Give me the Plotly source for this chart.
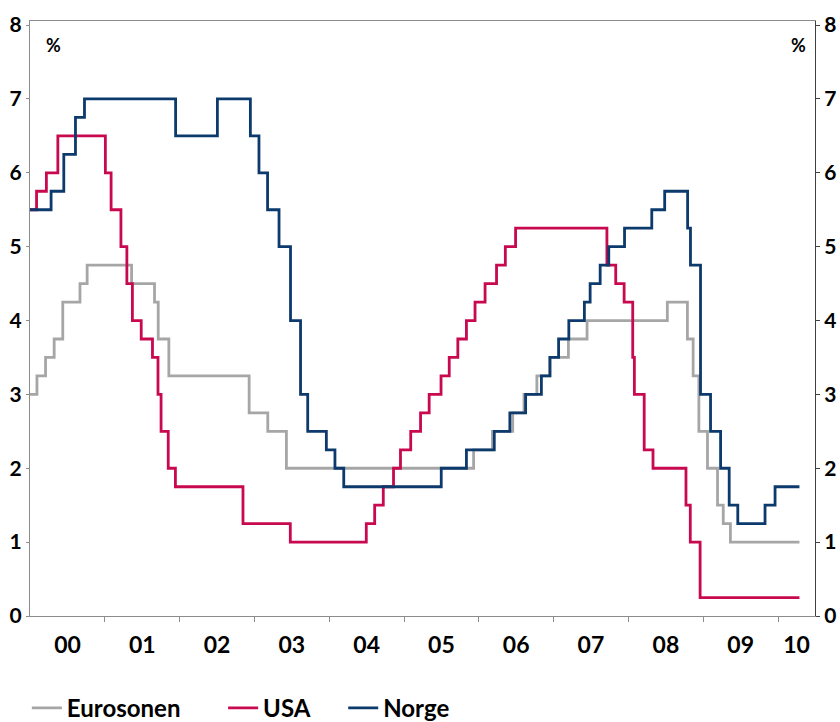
import plotly.graph_objects as go

# ---------------- data ----------------
euro_dates = ["2000-01-01", "2000-02-04", "2000-03-17", "2000-04-28", "2000-06-09", "2000-09-01",
              "2000-10-06", "2001-05-11", "2001-08-31", "2001-09-18", "2001-11-09", "2002-12-06",
              "2003-03-07", "2003-06-06", "2005-12-06", "2006-03-08", "2006-06-15", "2006-08-09",
              "2006-10-11", "2006-12-13", "2007-03-14", "2007-06-13", "2008-07-09", "2008-10-15",
              "2008-11-12", "2008-12-10", "2009-01-21", "2009-03-11", "2009-04-08", "2009-05-13",
              "2010-04-15"]
euro_rates = [3.00, 3.25, 3.50, 3.75, 4.25, 4.50,
              4.75, 4.50, 4.25, 3.75, 3.25, 2.75,
              2.50, 2.00, 2.25, 2.50, 2.75, 3.00,
              3.25, 3.50, 3.75, 4.00, 4.25, 3.75,
              3.25, 2.50, 2.00, 1.50, 1.25, 1.00,
              1.00]

usa_dates = ["2000-01-01", "2000-02-02", "2000-03-21", "2000-05-16", "2001-01-03", "2001-01-31",
             "2001-03-20", "2001-04-18", "2001-05-15", "2001-06-27", "2001-08-21", "2001-09-17",
             "2001-10-02", "2001-11-06", "2001-12-11", "2002-11-06", "2003-06-25", "2004-06-30",
             "2004-08-10", "2004-09-21", "2004-11-10", "2004-12-14", "2005-02-02", "2005-03-22",
             "2005-05-03", "2005-06-30", "2005-08-09", "2005-09-20", "2005-11-01", "2005-12-13",
             "2006-01-31", "2006-03-28", "2006-05-10", "2006-06-29", "2007-09-18", "2007-10-31",
             "2007-12-11", "2008-01-22", "2008-01-30", "2008-03-18", "2008-04-30", "2008-10-08",
             "2008-10-29", "2008-12-16", "2010-04-15"]
usa_rates = [5.50, 5.75, 6.00, 6.50, 6.00, 5.50,
             5.00, 4.50, 4.00, 3.75, 3.50, 3.00,
             2.50, 2.00, 1.75, 1.25, 1.00, 1.25,
             1.50, 1.75, 2.00, 2.25, 2.50, 2.75,
             3.00, 3.25, 3.50, 3.75, 4.00, 4.25,
             4.50, 4.75, 5.00, 5.25, 4.75, 4.50,
             4.25, 3.50, 3.00, 2.25, 2.00, 1.50,
             1.00, 0.25, 0.25]

norge_dates = ["2000-01-01", "2000-04-13", "2000-06-14", "2000-08-10", "2000-09-23", "2001-12-12",
               "2002-07-04", "2002-12-12", "2003-01-23", "2003-03-06", "2003-05-01", "2003-06-26",
               "2003-08-14", "2003-09-18", "2003-12-18", "2004-01-29", "2004-03-12", "2005-07-01",
               "2005-11-01", "2006-03-17", "2006-06-01", "2006-08-17", "2006-11-02", "2006-12-14",
               "2007-01-25", "2007-03-16", "2007-05-31", "2007-06-28", "2007-08-16", "2007-09-27",
               "2007-12-13", "2008-04-24", "2008-06-26", "2008-10-16", "2008-10-30", "2008-12-18",
               "2009-02-05", "2009-03-26", "2009-05-07", "2009-06-18", "2009-10-29", "2009-12-17",
               "2010-04-15"]
norge_rates = [5.50, 5.75, 6.25, 6.75, 7.00, 6.50,
               7.00, 6.50, 6.00, 5.50, 5.00, 4.00,
               3.00, 2.50, 2.25, 2.00, 1.75, 2.00,
               2.25, 2.50, 2.75, 3.00, 3.25, 3.50,
               3.75, 4.00, 4.25, 4.50, 4.75, 5.00,
               5.25, 5.50, 5.75, 5.25, 4.75, 3.00,
               2.50, 2.00, 1.50, 1.25, 1.50, 1.75,
               1.75]

series_names = ["Eurosonen", "USA", "Norge"]
x_label_dates = ["2000-07-02", "2001-07-02", "2002-07-02", "2003-07-02", "2004-07-02",
                 "2005-07-02", "2006-07-02", "2007-07-02", "2008-07-02", "2009-07-02", "2010-04-01"]
x_label_text = ["00", "01", "02", "03", "04", "05", "06", "07", "08", "09", "10"]
year_starts = ["2001-01-01", "2002-01-01", "2003-01-01", "2004-01-01", "2005-01-01",
               "2006-01-01", "2007-01-01", "2008-01-01", "2009-01-01", "2010-01-01"]
y_ticks = [0, 1, 2, 3, 4, 5, 6, 7, 8]

# ---------------- style ----------------
FONT = "Lato"
colors = {"Eurosonen": "#A6A6A6", "USA": "#C8084F", "Norge": "#0D3A6C"}
axis_grey = "#8C8C8C"

fig = go.Figure()
for name, xs, ys, leg in [("Eurosonen", euro_dates, euro_rates, "legend"),
                          ("USA", usa_dates, usa_rates, "legend2"),
                          ("Norge", norge_dates, norge_rates, "legend3")]:
    fig.add_trace(go.Scatter(x=xs, y=ys, mode="lines", name=name, line_shape="hv",
                             line=dict(color=colors[name], width=2.8), legend=leg))

# invisible trace for right axis
fig.add_trace(go.Scatter(x=[euro_dates[0]], y=[0], yaxis="y2", mode="markers",
                         marker=dict(opacity=0), showlegend=False, hoverinfo="skip"))

yrange = [0, 8.055]
leg_common = dict(orientation="h", yanchor="middle", y=-0.155, xanchor="left",
                  font=dict(family=FONT, size=24, color="#000000", weight="bold"),
                  bgcolor="rgba(0,0,0,0)", borderwidth=0)

fig.update_layout(
    width=840, height=722,
    margin=dict(l=30, r=25, t=21, b=106, autoexpand=False),
    paper_bgcolor="white", plot_bgcolor="white",
    xaxis=dict(type="date", range=["2000-01-01", "2010-06-30"],
               tickmode="array", tickvals=x_label_dates, ticktext=x_label_text,
               ticks="", ticklen=0, showgrid=False, zeroline=False,
               showline=True, linecolor=axis_grey, linewidth=1, mirror=True,
               tickfont=dict(family=FONT, size=23, color="#000000", weight="bold"),
               ticklabelstandoff=8, automargin=False,
               minor=dict(tickmode="array", tickvals=year_starts, ticks="outside",
                          ticklen=5, tickcolor=axis_grey, tickwidth=1, showgrid=False)),
    yaxis=dict(range=yrange, tickmode="array", tickvals=y_ticks, ticks="outside",
               ticklen=3, tickcolor=axis_grey, showgrid=False, zeroline=False,
               showline=True, linecolor=axis_grey, linewidth=1, automargin=False,
               tickfont=dict(family=FONT, size=21, color="#000000", weight="bold")),
    yaxis2=dict(range=yrange, overlaying="y", side="right", tickmode="array",
                tickvals=y_ticks, ticks="outside", ticklen=4, tickcolor="#404040",
                showgrid=False, zeroline=False, showline=True, linecolor="#404040",
                linewidth=1, automargin=False,
                tickfont=dict(family=FONT, size=21, color="#000000", weight="bold")),
    legend=dict(leg_common, x=-0.004),
    legend2=dict(leg_common, x=0.246),
    legend3=dict(leg_common, x=0.399),
    annotations=[
        dict(text="%", xref="paper", yref="paper", x=0.0293, y=0.9597,
             xanchor="center", yanchor="middle", showarrow=False,
             font=dict(family=FONT, size=18, color="#000000", weight="bold")),
        dict(text="%", xref="paper", yref="paper", x=0.9796, y=0.9597,
             xanchor="center", yanchor="middle", showarrow=False,
             font=dict(family=FONT, size=18, color="#000000", weight="bold")),
    ],
)

fig.write_html("out.html")
